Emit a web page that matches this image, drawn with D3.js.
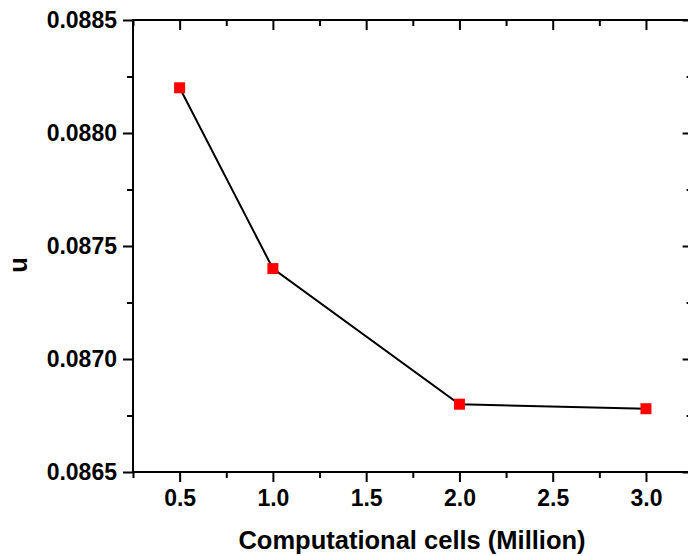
<!DOCTYPE html>
<html><head><meta charset="utf-8">
<script src="https://cdn.jsdelivr.net/npm/d3@7"></script>
<style>body{margin:0;background:#fff}svg{display:block}text{font-family:"Liberation Sans",Arial,sans-serif;font-weight:bold}</style>
</head><body>
<svg id="c" width="688" height="556"></svg>
<script>
const cells = [0.5, 1.0, 2.0, 3.0];
const uValues = [0.0882, 0.0874, 0.0868, 0.08678];
const xTicks = [0.5, 1.0, 1.5, 2.0, 2.5, 3.0];
const yTicks = [0.0865, 0.0870, 0.0875, 0.0880, 0.0885];

const svg = d3.select("#c");
const L = 133, R = 692.6, T = 20, B = 472;
const x = d3.scaleLinear().domain([0.25, 3.25]).range([L, R]);
const y = d3.scaleLinear().domain([0.0865, 0.0885]).range([B, T]);
const minorX = d3.range(0.25, 3.3, 0.25).filter(v => !xTicks.some(t => Math.abs(t - v) < 1e-9));
const minorY = d3.range(0.08675, 0.0885, 0.0005);

function styleAxis(g){ g.select(".domain").remove(); g.selectAll("line").attr("stroke","#000").attr("stroke-width",2); }

// bottom axis
const gb = svg.append("g").attr("transform",`translate(0,${B})`)
  .call(d3.axisBottom(x).tickValues(xTicks).tickFormat(d3.format(".1f")).tickSize(10).tickPadding(8));
styleAxis(gb);
gb.selectAll("text").attr("font-size",23).attr("fill","#000");
svg.append("g").attr("transform",`translate(0,${B})`)
  .call(d3.axisBottom(x).tickValues(minorX).tickFormat("").tickSize(6)).call(styleAxis);
// top axis (inward)
svg.append("g").attr("transform",`translate(0,${T})`)
  .call(d3.axisTop(x).tickValues(xTicks).tickFormat("").tickSize(-10)).call(styleAxis);
svg.append("g").attr("transform",`translate(0,${T})`)
  .call(d3.axisTop(x).tickValues(minorX).tickFormat("").tickSize(-6)).call(styleAxis);
// left axis
const gl = svg.append("g").attr("transform",`translate(${L},0)`)
  .call(d3.axisLeft(y).tickValues(yTicks).tickFormat(d3.format(".4f")).tickSize(10).tickPadding(6));
styleAxis(gl);
gl.selectAll("text").attr("font-size",23).attr("fill","#000");
svg.append("g").attr("transform",`translate(${L},0)`)
  .call(d3.axisLeft(y).tickValues(minorY).tickFormat("").tickSize(6)).call(styleAxis);
// right axis (inward)
svg.append("g").attr("transform",`translate(${R},0)`)
  .call(d3.axisRight(y).tickValues(yTicks).tickFormat("").tickSize(-10)).call(styleAxis);
svg.append("g").attr("transform",`translate(${R},0)`)
  .call(d3.axisRight(y).tickValues(minorY).tickFormat("").tickSize(-6)).call(styleAxis);

// frame lines
svg.append("line").attr("x1",L).attr("x2",R+1).attr("y1",T).attr("y2",T).attr("stroke","#000").attr("stroke-width",2);
svg.append("line").attr("x1",L).attr("x2",R+1).attr("y1",B).attr("y2",B).attr("stroke","#000").attr("stroke-width",2);
svg.append("line").attr("x1",L).attr("x2",L).attr("y1",T-1).attr("y2",B+1).attr("stroke","#000").attr("stroke-width",2);
svg.append("line").attr("x1",R).attr("x2",R).attr("y1",T-1).attr("y2",B+1).attr("stroke","#000").attr("stroke-width",2);

// data line
const pts = cells.map((c,i)=>[c,uValues[i]]);
svg.append("path").datum(pts)
  .attr("d", d3.line().x(d=>x(d[0])).y(d=>y(d[1])))
  .attr("fill","none").attr("stroke","#000").attr("stroke-width",2);
svg.selectAll("rect.m").data(pts).join("rect").attr("class","m")
  .attr("x",d=>x(d[0])-5.5).attr("y",d=>y(d[1])-5.5).attr("width",11).attr("height",11)
  .attr("fill","#ff0000");

// titles
svg.append("text").attr("x",412).attr("y",549).attr("text-anchor","middle")
  .attr("font-size",25.5).text("Computational cells (Million)");
svg.append("text").attr("transform","translate(27,265) rotate(-90)").attr("text-anchor","middle")
  .attr("font-size",25.5).text("u");
</script>
</body></html>
